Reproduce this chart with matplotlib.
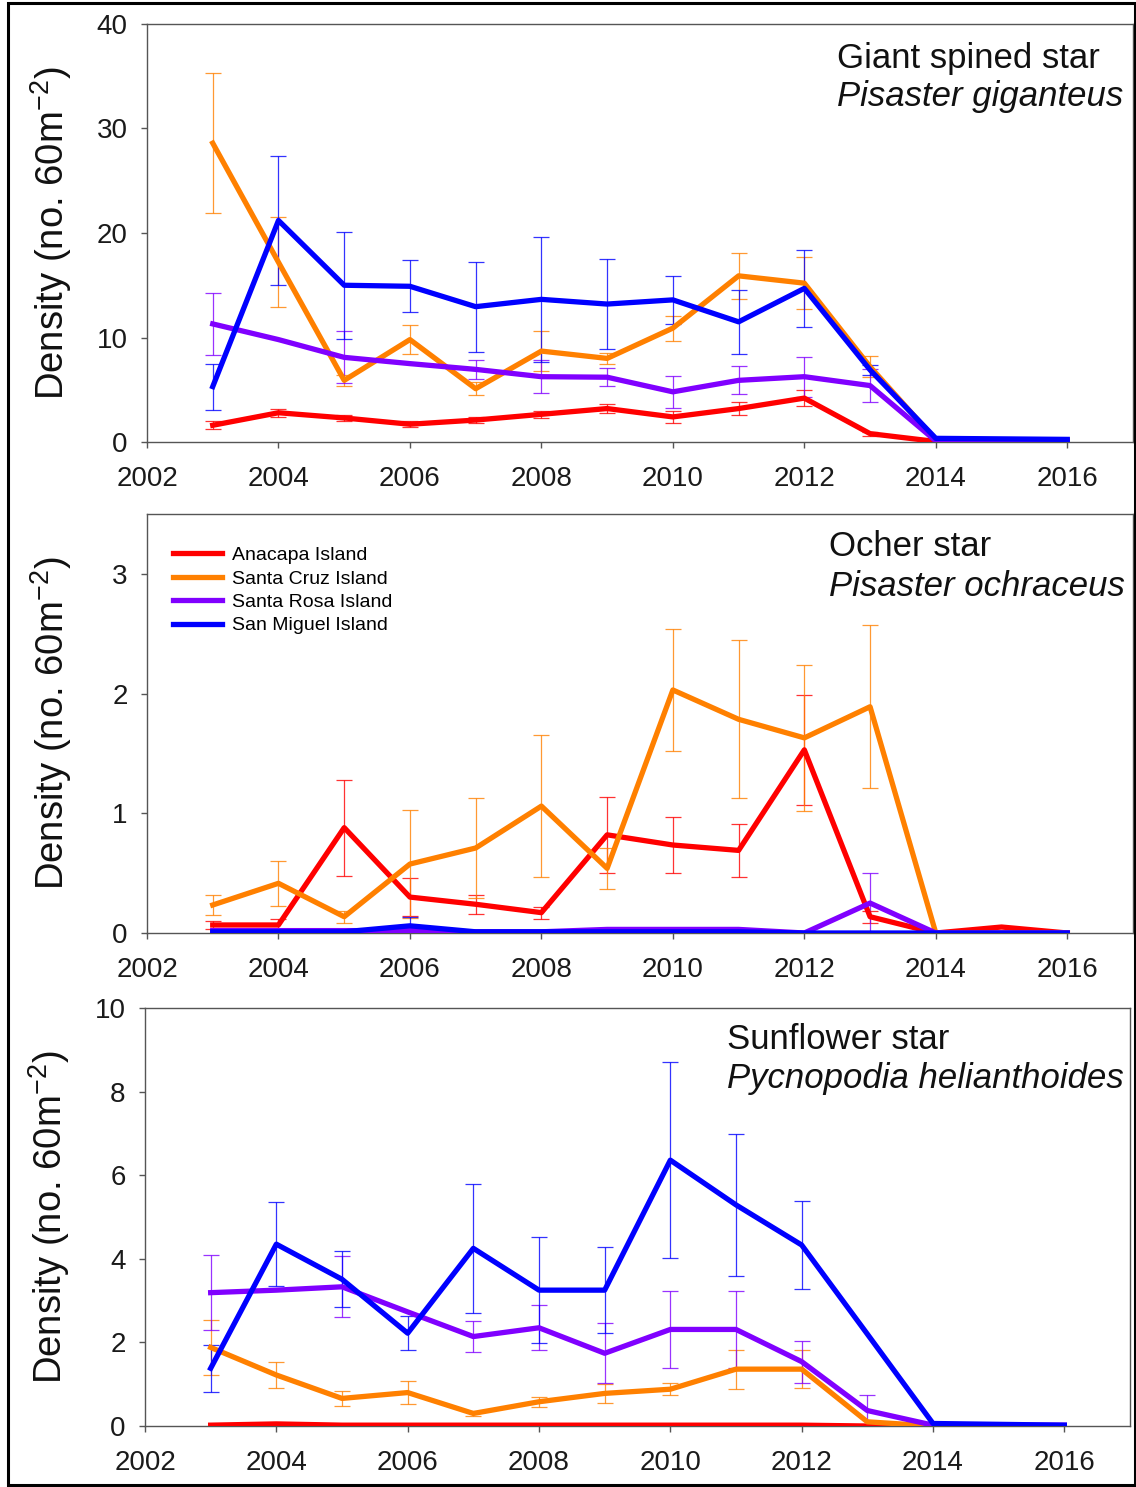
import numpy as np
import matplotlib.pyplot as plt
from matplotlib.patches import Rectangle

plt.switch_backend("Agg")

plt.rcParams["font.family"] = ["Liberation Sans", "DejaVu Sans"]
plt.rcParams["mathtext.default"] = "regular"

# survey years
years = [2003, 2004, 2005, 2006, 2007, 2008, 2009, 2010, 2011, 2012, 2013, 2014, 2015, 2016]

islands = ["Anacapa Island", "Santa Cruz Island", "Santa Rosa Island", "San Miguel Island"]
colors = ["#ff0000", "#ff8000", "#8000ff", "#0000ff"]

# Giant spined star (Pisaster giganteus)
anacapa_gig = [1.6, 2.8, 2.3, 1.7, 2.1, 2.65, 3.2, 2.4, 3.2, 4.2, 0.8, 0.05, 0.05, 0.05]
anacapa_gig_se = [0.37, 0.4, 0.3, 0.3, 0.3, 0.35, 0.4, 0.55, 0.6, 0.8, 0.2, 0, 0, 0]
santacruz_gig = [28.6, 17.2, 5.9, 9.8, 5.1, 8.7, 8.0, 10.9, 15.9, 15.2, 7.2, 0.2, 0.15, 0.1]
santacruz_gig_se = [6.7, 4.3, 0.5, 1.4, 0.6, 1.9, 0.5, 1.2, 2.2, 2.5, 1.0, 0, 0, 0]
santarosa_gig = [11.3, 9.8, 8.1, 7.5, 6.95, 6.25, 6.2, 4.8, 5.9, 6.25, 5.4, 0.1, 0.1, 0.1]
santarosa_gig_se = [3.0, 0, 2.5, 0, 0.9, 1.55, 0.85, 1.5, 1.35, 1.9, 1.6, 0, 0, 0]
sanmiguel_gig = [5.3, 21.2, 15.0, 14.9, 12.95, 13.65, 13.2, 13.6, 11.5, 14.7, 6.9, 0.35, 0.3, 0.25]
sanmiguel_gig_se = [2.2, 6.2, 5.1, 2.5, 4.3, 6.0, 4.3, 2.3, 3.05, 3.7, 0.5, 0, 0, 0]

# Ocher star (Pisaster ochraceus)
anacapa_och = [0.067, 0.067, 0.88, 0.30, 0.24, 0.17, 0.82, 0.735, 0.69, 1.53, 0.136, 0.0, 0.05, 0.0]
anacapa_och_se = [0.03, 0.05, 0.4, 0.16, 0.08, 0.05, 0.32, 0.23, 0.22, 0.46, 0.05, 0, 0, 0]
santacruz_och = [0.234, 0.415, 0.136, 0.576, 0.71, 1.06, 0.54, 2.03, 1.785, 1.63, 1.89, 0.0, 0.0, 0.0]
santacruz_och_se = [0.085, 0.19, 0.05, 0.45, 0.42, 0.59, 0.17, 0.51, 0.66, 0.61, 0.68, 0, 0, 0]
santarosa_och = [0.02, 0.02, 0.02, 0.02, 0.01, 0.01, 0.03, 0.03, 0.03, 0.0, 0.25, 0.0, 0.0, 0.0]
santarosa_och_se = [0, 0, 0, 0, 0, 0, 0, 0, 0, 0, 0.25, 0, 0, 0]
sanmiguel_och = [0.01, 0.01, 0.01, 0.06, 0.01, 0.01, 0.01, 0.01, 0.01, 0.0, 0.0, 0.0, 0.0, 0.0]
sanmiguel_och_se = [0, 0, 0, 0.07, 0, 0, 0, 0, 0, 0, 0, 0, 0, 0]

# Sunflower star (Pycnopodia helianthoides)
anacapa_pyc = [0.02, 0.05, 0.02, 0.02, 0.02, 0.02, 0.02, 0.02, 0.02, 0.02, 0.0, 0.0, 0.0, 0.0]
anacapa_pyc_se = [0] * 14
santacruz_pyc = [1.88, 1.22, 0.66, 0.8, 0.30, 0.58, 0.78, 0.88, 1.36, 1.36, 0.1, 0.0, 0.0, 0.0]
santacruz_pyc_se = [0.65, 0.3, 0.18, 0.27, 0.05, 0.12, 0.22, 0.15, 0.47, 0.46, 0, 0, 0, 0]
santarosa_pyc = [3.19, 3.25, 3.33, 2.73, 2.14, 2.35, 1.74, 2.31, 2.31, 1.54, 0.37, 0.02, 0.02, 0.02]
santarosa_pyc_se = [0.9, 0, 0.73, 0, 0.37, 0.54, 0.72, 0.93, 0.93, 0.5, 0.37, 0, 0, 0]
sanmiguel_pyc = [1.38, 4.35, 3.51, 2.22, 4.25, 3.25, 3.25, 6.36, 5.29, 4.33, 2.2, 0.06, 0.04, 0.02]
sanmiguel_pyc_se = [0.56, 1.0, 0.67, 0.4, 1.55, 1.26, 1.03, 2.35, 1.7, 1.05, 0, 0, 0, 0]

panels = [
    {
        "common": "Giant spined star", "latin": "Pisaster giganteus",
        "series": [(anacapa_gig, anacapa_gig_se), (santacruz_gig, santacruz_gig_se),
                   (santarosa_gig, santarosa_gig_se), (sanmiguel_gig, sanmiguel_gig_se)],
        "ylim": 40, "yticks": [0, 10, 20, 30, 40],
        "rect": [147, 24, 1133, 442], "text": (0.700, 0.957, 0.866),
    },
    {
        "common": "Ocher star", "latin": "Pisaster ochraceus",
        "series": [(anacapa_och, anacapa_och_se), (santacruz_och, santacruz_och_se),
                   (santarosa_och, santarosa_och_se), (sanmiguel_och, sanmiguel_och_se)],
        "ylim": 3.5, "yticks": [0, 1, 2, 3],
        "rect": [147, 514, 1133, 933], "text": (0.692, 0.962, 0.866),
    },
    {
        "common": "Sunflower star", "latin": "Pycnopodia helianthoides",
        "series": [(anacapa_pyc, anacapa_pyc_se), (santacruz_pyc, santacruz_pyc_se),
                   (santarosa_pyc, santarosa_pyc_se), (sanmiguel_pyc, sanmiguel_pyc_se)],
        "ylim": 10, "yticks": [0, 2, 4, 6, 8, 10],
        "rect": [145, 1008, 1130, 1426], "text": (0.591, 0.964, 0.871),
    },
]

W, H = 1136, 1487
fig = plt.figure(figsize=(W / 100, H / 100), dpi=100)

for i, p in enumerate(panels):
    x0, y0, x1, y1 = p["rect"]
    ax = fig.add_axes([x0 / W, 1 - y1 / H, (x1 - x0) / W, (y1 - y0) / H])

    yrs = np.array(years)
    for (vals, se), c, name in zip(p["series"], colors, islands):
        vals = np.array(vals)
        se = np.array(se)
        m = se > 0
        ax.errorbar(yrs[m], vals[m], yerr=se[m], fmt="none", ecolor=c,
                    elinewidth=0.9, capsize=6, capthick=0.9, alpha=0.8, zorder=2)
        ax.plot(yrs, vals, color=c, lw=3.8, label=name, zorder=3)

    ax.set_xlim(2002, 2017)
    ax.set_ylim(0, p["ylim"])
    ax.set_xticks(range(2002, 2017, 2))
    ax.set_yticks(p["yticks"])
    ax.tick_params(labelsize=20, length=4, width=1, color="#555555",
                   labelcolor="#1a1a1a")
    ax.tick_params(axis="x", pad=13)
    ax.tick_params(axis="y", pad=10)
    for s in ax.spines.values():
        s.set_color("#555555")
        s.set_linewidth(1)

    ax.set_ylabel("Density (no. 60m$^{-2}$)", fontsize=27.5, color="#111111")
    ax.yaxis.set_label_coords(-0.074, 0.5)

    tx, ty1, ty2 = p["text"]
    ax.text(tx, ty1, p["common"], transform=ax.transAxes, fontsize=25,
            ha="left", va="top", color="#111111")
    ax.text(tx, ty2, p["latin"], transform=ax.transAxes, fontsize=25,
            ha="left", va="top", style="italic", color="#111111")

    if i == 1:
        ax.legend(loc="upper left", bbox_to_anchor=(0.013, 0.955), frameon=False,
                  fontsize=14, handlelength=2.5, labelspacing=0.3,
                  handletextpad=0.5, borderaxespad=0.3)

# outer frame around the whole figure
fig.patches.append(Rectangle((8 / W, 2 / H), 1127 / W, 1482 / H, transform=fig.transFigure,
                             fill=False, lw=2.2, ec="black"))

plt.savefig("out.png", dpi=100)
plt.close()
